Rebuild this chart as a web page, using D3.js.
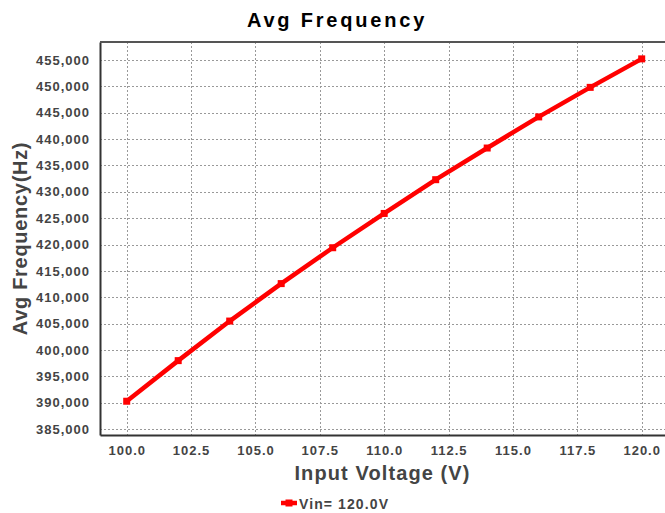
<!DOCTYPE html>
<html>
<head>
<meta charset="utf-8">
<script src="https://cdn.jsdelivr.net/npm/d3@7"></script>
<style>
  body { margin: 0; background: #fff; }
  text { font-family: "Liberation Sans", Arial, sans-serif; font-weight: bold; }
</style>
</head>
<body>
<div id="chart"></div>
<script>
// data
const voltages = [100, 102, 104, 106, 108, 110, 112, 114, 116, 118, 120];
const avgFreq = [390300, 398000, 405500, 412600, 419400, 425900, 432300, 438300, 444200, 449800, 455200];
const xTicks = [100, 102.5, 105, 107.5, 110, 112.5, 115, 117.5, 120];
const yTicks = [385000, 390000, 395000, 400000, 405000, 410000, 415000, 420000, 425000, 430000, 435000, 440000, 445000, 450000, 455000];
const seriesName = "Vin= 120.0V";

const width = 665, height = 513;
const margin = { top: 42, right: 0, bottom: 78, left: 100 };
const plotW = width - margin.left - margin.right;
const plotH = height - margin.top - margin.bottom;

const svg = d3.select("#chart").append("svg")
  .attr("width", width)
  .attr("height", height);

const x = d3.scaleLinear().domain([98.963, 120.905]).range([margin.left, margin.left + plotW]);
const y = d3.scaleLinear().domain([383900, 458400]).range([margin.top + plotH, margin.top]);

// grid
const grid = svg.append("g").attr("stroke", "#999").attr("stroke-width", 1).attr("stroke-dasharray", "2,2");
grid.selectAll(".vg").data(xTicks).enter().append("line")
  .attr("x1", d => Math.round(x(d)) + 0.5).attr("x2", d => Math.round(x(d)) + 0.5)
  .attr("y1", margin.top).attr("y2", margin.top + plotH + 3);
grid.selectAll(".hg").data(yTicks).enter().append("line")
  .attr("y1", d => Math.round(y(d)) + 0.5).attr("y2", d => Math.round(y(d)) + 0.5)
  .attr("x1", margin.left).attr("x2", width);

// axes
const xAxis = svg.append("g")
  .attr("transform", `translate(0,${margin.top + plotH})`)
  .call(d3.axisBottom(x).tickValues(xTicks).tickFormat(d3.format(".1f")).tickSize(0).tickPadding(11));
const yAxis = svg.append("g")
  .attr("transform", `translate(${margin.left},0)`)
  .call(d3.axisLeft(y).tickValues(yTicks).tickFormat(d3.format(",")).tickSize(0).tickPadding(10));

[xAxis, yAxis].forEach(a => {
  a.select(".domain").attr("stroke", "#333").attr("stroke-width", 2);
  a.selectAll("text")
    .attr("fill", "#444")
    .style("font-size", "13px")
    .style("letter-spacing", "1px")
    .style("font-family", "'Liberation Sans', Arial, sans-serif")
    .style("font-weight", "bold");
});

// top border
svg.append("line")
  .attr("x1", margin.left).attr("x2", width)
  .attr("y1", margin.top).attr("y2", margin.top)
  .attr("stroke", "#555").attr("stroke-width", 2);

// series
const pts = voltages.map((v, i) => [v, avgFreq[i]]);
svg.append("path")
  .datum(pts)
  .attr("fill", "none")
  .attr("stroke", "#ff0000")
  .attr("stroke-width", 4.5)
  .attr("d", d3.line().x(d => x(d[0])).y(d => y(d[1])));

svg.selectAll(".pt").data(pts).enter().append("rect")
  .attr("x", d => x(d[0]) - 3.5)
  .attr("y", d => y(d[1]) - 3.5)
  .attr("width", 7).attr("height", 7)
  .attr("fill", "#ff0000");

// title
svg.append("text")
  .attr("x", 337).attr("y", 27)
  .attr("text-anchor", "middle")
  .style("font-size", "20px")
  .style("letter-spacing", "2.8px")
  .attr("fill", "#000")
  .text("Avg Frequency");

// axis titles
svg.append("text")
  .attr("x", margin.left + plotW / 2).attr("y", 480)
  .attr("text-anchor", "middle")
  .style("font-size", "20px")
  .style("letter-spacing", "1.1px")
  .attr("fill", "#444")
  .text("Input Voltage (V)");

svg.append("text")
  .attr("transform", `translate(27,${margin.top + plotH / 2}) rotate(-90)`)
  .attr("text-anchor", "middle")
  .style("font-size", "20px")
  .style("letter-spacing", "0.7px")
  .attr("fill", "#444")
  .text("Avg Frequency(Hz)");

// legend
const lg = svg.append("g").attr("transform", "translate(281,503)");
lg.append("line").attr("x1", 0).attr("x2", 16).attr("y1", 0).attr("y2", 0)
  .attr("stroke", "#ff0000").attr("stroke-width", 4.5);
lg.append("rect").attr("x", 4.5).attr("y", -3.5).attr("width", 7).attr("height", 7).attr("fill", "#ff0000");
lg.append("text").attr("x", 18).attr("y", 6)
  .style("font-size", "14px")
  .style("letter-spacing", "1.1px")
  .attr("fill", "#444")
  .text(seriesName);
</script>
</body>
</html>
